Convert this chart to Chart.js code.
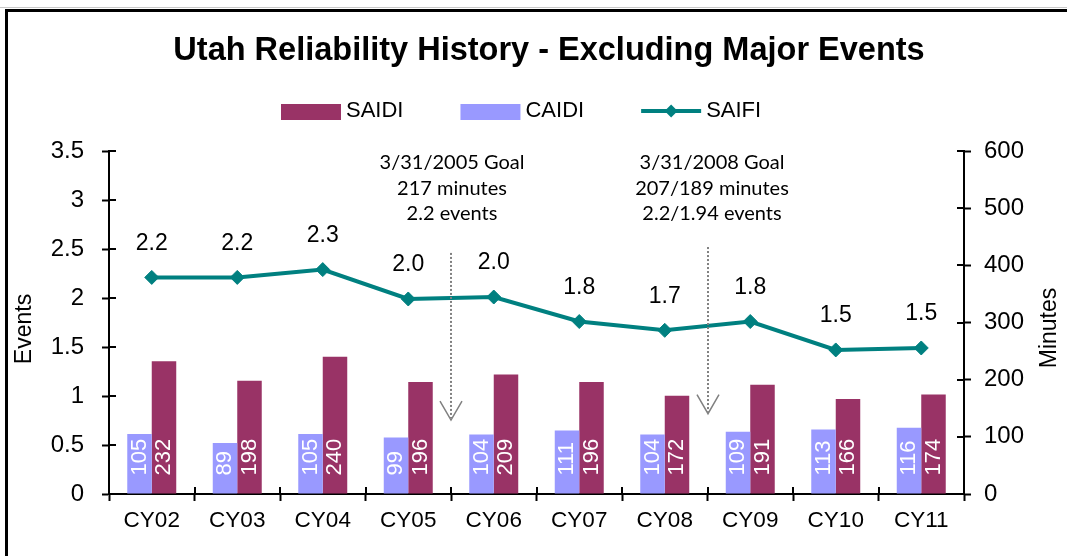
<!DOCTYPE html>
<html>
<head>
<meta charset="utf-8">
<title>Utah Reliability History</title>
<script src="https://cdn.jsdelivr.net/npm/chart.js@4/dist/chart.umd.min.js"></script>
<style>
  html, body { margin: 0; padding: 0; background: #fff; }
  #wrap { position: relative; width: 1067px; height: 556px; overflow: hidden; }
  #rule { position: absolute; left: 0; top: 7px; width: 1067px; height: 1px; background: #c8c8c8; }
  #frame { position: absolute; left: 5px; top: 9px; width: 1100px; height: 600px;
           border-left: 3px solid #000; border-top: 3px solid #000; }
  canvas { position: absolute; left: 0; top: 0; }
</style>
</head>
<body>
<div id="wrap">
  <div id="rule"></div>
  <div id="frame"></div>
  <canvas id="chart" width="1067" height="556"></canvas>
</div>
<script>
(function () {
  "use strict";

  const CATEGORIES = ["CY02", "CY03", "CY04", "CY05", "CY06", "CY07", "CY08", "CY09", "CY10", "CY11"];
  // minutes (right axis)
  const SAIDI = [232, 198, 240, 196, 209, 196, 172, 191, 166, 174];
  const CAIDI = [105, 89, 105, 99, 104, 111, 104, 109, 113, 116];
  // events (left axis)
  const SAIFI = [2.21, 2.21, 2.29, 1.99, 2.01, 1.76, 1.67, 1.76, 1.47, 1.49];

  const EVENT_AXIS = { min: 0, max: 3.5, step: 0.5 };
  const MINUTE_AXIS = { min: 0, max: 600, step: 100 };

  const GOAL_NOTES = [
    ["3/31/2005 Goal", "217 minutes", "2.2 events"],
    ["3/31/2008 Goal", "207/189 minutes", "2.2/1.94 events"],
  ];

  // where each goal arrow sits: category boundary, arrow top / tip in events units
  const GOAL_LAYOUT = [
    { at: 3.5, dx: 1, top: 2.46, tip: 0.755 },
    { at: 6.5, dx: 4, top: 2.52, tip: 0.82 },
  ];

  const COLORS = {
    saidi: "#993366",
    caidi: "#9999ff",
    saifi: "#008080",
    arrow: "#808080",
    ink: "#000000",
  };

  const FONT = '"Liberation Sans", Arial, sans-serif';
  const NOTE_FONT = 'Lato, "Open Sans", sans-serif';

  function line(ctx, x1, y1, x2, y2) {
    ctx.beginPath();
    ctx.moveTo(x1, y1);
    ctx.lineTo(x2, y2);
    ctx.stroke();
  }

  function diamond(ctx, x, y, r) {
    ctx.beginPath();
    ctx.moveTo(x - r, y);
    ctx.lineTo(x, y - r);
    ctx.lineTo(x + r, y);
    ctx.lineTo(x, y + r);
    ctx.closePath();
    ctx.fill();
  }

  const decorations = {
    id: "decorations",
    afterDatasetsDraw(chart) {
      const ctx = chart.ctx;
      ctx.save();

      // SAIFI values above the markers
      ctx.font = "23px " + FONT;
      ctx.fillStyle = COLORS.ink;
      ctx.textAlign = "center";
      ctx.textBaseline = "middle";
      chart.getDatasetMeta(2).data.forEach((pt, i) => {
        ctx.fillText(SAIFI[i].toFixed(1), pt.x, pt.y - 34);
      });

      // minutes written upward inside the bars
      ctx.fillStyle = "#ffffff";
      ctx.font = "22px " + FONT;
      ctx.textAlign = "left";
      [0, 1].forEach((d) => {
        const values = chart.data.datasets[d].data;
        chart.getDatasetMeta(d).data.forEach((bar, i) => {
          ctx.save();
          ctx.translate(bar.x, bar.base - 18);
          ctx.rotate(-Math.PI / 2);
          ctx.fillText(String(values[i]), 0, 0);
          ctx.restore();
        });
      });
      ctx.restore();
    },
    afterDraw(chart) {
      const ctx = chart.ctx;
      const area = chart.chartArea;
      const xs = chart.scales.x;
      const ys = chart.scales.y;
      const ys1 = chart.scales.y1;
      ctx.save();

      // inner half of the crossing tick marks
      ctx.strokeStyle = COLORS.ink;
      ctx.lineWidth = 2;
      ys.ticks.forEach((t, i) => {
        const py = Math.round(ys.getPixelForTick(i));
        line(ctx, area.left, py, area.left + 7, py);
      });
      ys1.ticks.forEach((t, i) => {
        const py = Math.round(ys1.getPixelForTick(i));
        line(ctx, area.right - 7, py, area.right, py);
      });
      for (let i = 0; i <= CATEGORIES.length; i++) {
        const px = Math.round(xs.getPixelForValue(i - 0.5));
        line(ctx, px, area.bottom - 7, px, area.bottom);
      }

      // title
      ctx.fillStyle = COLORS.ink;
      ctx.textAlign = "center";
      ctx.textBaseline = "middle";
      ctx.font = "bold 32.5px " + FONT;
      ctx.fillText("Utah Reliability History - Excluding Major Events", 549, 51);

      // legend: SAIDI, CAIDI, SAIFI
      const ds = chart.data.datasets;
      const items = [
        { d: ds[1], kind: "box" },
        { d: ds[0], kind: "box" },
        { d: ds[2], kind: "line" },
      ];
      ctx.font = "22px " + FONT;
      ctx.textAlign = "left";
      let lx = 281;
      items.forEach((it) => {
        if (it.kind === "box") {
          ctx.fillStyle = it.d.backgroundColor;
          ctx.fillRect(lx, 104, 60, 16);
        } else {
          ctx.strokeStyle = it.d.borderColor;
          ctx.lineWidth = 4;
          line(ctx, lx, 111, lx + 60, 111);
          ctx.fillStyle = it.d.borderColor;
          diamond(ctx, lx + 30, 111, 6.5);
        }
        ctx.fillStyle = COLORS.ink;
        ctx.fillText(it.d.label, lx + 65, 111);
        lx += 65 + ctx.measureText(it.d.label).width + 57;
      });

      // axis titles
      ctx.font = "23px " + FONT;
      ctx.textAlign = "center";
      [["Events", 25, 329], ["Minutes", 1050, 328]].forEach(([t, x, y]) => {
        ctx.save();
        ctx.translate(x, y);
        ctx.rotate(-Math.PI / 2);
        ctx.fillText(t, 0, 0);
        ctx.restore();
      });

      // goal notes with dotted arrows
      GOAL_LAYOUT.forEach((g, k) => {
        const x = Math.round(xs.getPixelForValue(g.at));
        const yTop = ys.getPixelForValue(g.top);
        const yTip = ys.getPixelForValue(g.tip);
        ctx.strokeStyle = COLORS.arrow;
        ctx.lineWidth = 2;
        ctx.setLineDash([2, 2]);
        line(ctx, x, yTop, x, yTip - 2);
        ctx.setLineDash([]);
        ctx.lineWidth = 1.5;
        ctx.beginPath();
        ctx.moveTo(x - 11, yTip - 19);
        ctx.lineTo(x, yTip);
        ctx.lineTo(x + 11, yTip - 19);
        ctx.stroke();

        ctx.fillStyle = COLORS.ink;
        ctx.font = "20px " + NOTE_FONT;
        ctx.textAlign = "center";
        GOAL_NOTES[k].forEach((t, i) => {
          ctx.fillText(t, x + g.dx, area.top + 12 + i * 25.5);
        });
      });

      ctx.restore();
    },
  };

  const axisGrid = {
    display: true,
    drawOnChartArea: false,
    drawTicks: true,
    tickLength: 7,
    tickWidth: 2,
    tickColor: COLORS.ink,
  };
  const axisBorder = { display: true, color: COLORS.ink, width: 2 };

  new Chart(document.getElementById("chart"), {
    type: "bar",
    data: {
      labels: CATEGORIES,
      datasets: [
        {
          label: "CAIDI",
          data: CAIDI,
          backgroundColor: COLORS.caidi,
          yAxisID: "y1",
          categoryPercentage: 0.573,
          barPercentage: 1,
        },
        {
          label: "SAIDI",
          data: SAIDI,
          backgroundColor: COLORS.saidi,
          yAxisID: "y1",
          categoryPercentage: 0.573,
          barPercentage: 1,
        },
        {
          type: "line",
          label: "SAIFI",
          data: SAIFI,
          yAxisID: "y",
          borderColor: COLORS.saifi,
          backgroundColor: COLORS.saifi,
          borderWidth: 4,
          tension: 0,
          pointStyle: "rectRot",
          pointRadius: 7,
          pointBorderWidth: 1,
          pointBorderColor: COLORS.saifi,
          pointBackgroundColor: COLORS.saifi,
        },
      ],
    },
    options: {
      responsive: false,
      animation: false,
      layout: { padding: { top: 151, left: 0, right: 0, bottom: 0 } },
      plugins: {
        legend: { display: false },
        title: { display: false },
        tooltip: { enabled: false },
      },
      scales: {
        x: {
          grid: Object.assign({ offset: true }, axisGrid),
          border: axisBorder,
          ticks: { color: COLORS.ink, font: { family: FONT, size: 22.5 }, padding: 6, maxRotation: 0 },
          afterFit(s) { s.height = 62; },
        },
        y: {
          position: "left",
          min: EVENT_AXIS.min,
          max: EVENT_AXIS.max,
          grid: axisGrid,
          border: axisBorder,
          ticks: {
            stepSize: EVENT_AXIS.step,
            color: COLORS.ink,
            font: { family: FONT, size: 24 },
            padding: 18,
            callback: (v) => String(v),
          },
          afterFit(s) { s.width = 109; },
        },
        y1: {
          position: "right",
          min: MINUTE_AXIS.min,
          max: MINUTE_AXIS.max,
          grid: axisGrid,
          border: axisBorder,
          ticks: {
            stepSize: MINUTE_AXIS.step,
            color: COLORS.ink,
            font: { family: FONT, size: 24 },
            padding: 13,
            callback: (v) => String(v),
          },
          afterFit(s) { s.width = 103; },
        },
      },
    },
    plugins: [decorations],
  });
})();
</script>
</body>
</html>
